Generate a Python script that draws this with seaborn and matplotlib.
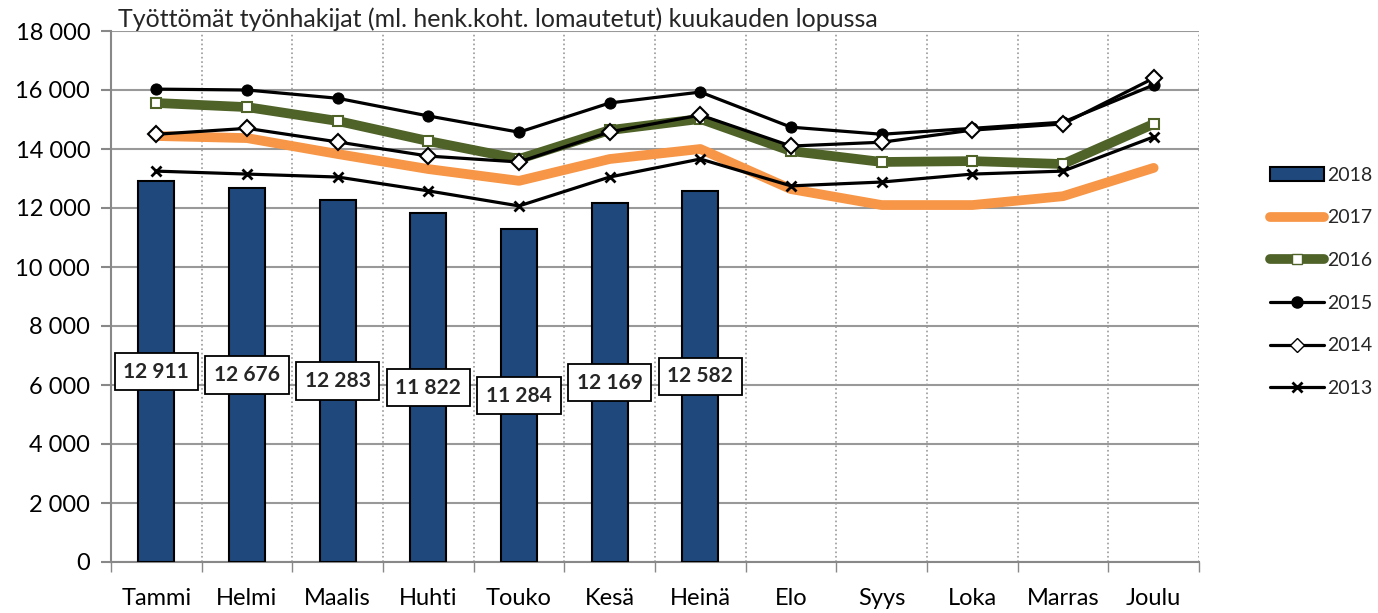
import numpy as np
import pandas as pd
import seaborn as sns
import matplotlib.pyplot as plt
from matplotlib.lines import Line2D
from matplotlib.patches import Patch
from matplotlib.ticker import FuncFormatter, MultipleLocator

kuukaudet = ["Tammi", "Helmi", "Maalis", "Huhti", "Touko", "Kesä",
             "Heinä", "Elo", "Syys", "Loka", "Marras", "Joulu"]

v2018 = [12911, 12676, 12283, 11822, 11284, 12169, 12582]
v2017 = [14440, 14370, 13830, 13320, 12920, 13660, 14000, 12640, 12100, 12100, 12400, 13360]
v2016 = [15560, 15420, 14950, 14270, 13660, 14640, 15020, 13930, 13560, 13590, 13490, 14850]
v2015 = [16030, 16000, 15720, 15120, 14570, 15560, 15930, 14740, 14500, 14700, 14910, 16170]
v2014 = [14500, 14700, 14240, 13760, 13560, 14580, 15150, 14100, 14230, 14640, 14850, 16400]
v2013 = [13250, 13150, 13050, 12580, 12070, 13050, 13660, 12750, 12880, 13150, 13250, 14410]

sns.set_theme(style="white")
plt.rcParams['font.family'] = ['Lato', 'DejaVu Sans']

fig = plt.figure(figsize=(13.78, 6.13), dpi=100)
ax = fig.add_axes([111 / 1378, 1 - 562 / 613, 1088 / 1378, 531 / 613])

df18 = pd.DataFrame({"kk": kuukaudet[:len(v2018)], "arvo": v2018})
sns.barplot(data=df18, x="kk", y="arvo", order=kuukaudet, color="#1F497D",
            saturation=1, width=0.40, edgecolor="black", linewidth=1.5, ax=ax, zorder=3)

x = np.arange(12)
sns.lineplot(x=x, y=v2017, color="#F79646", lw=7, ax=ax, zorder=4)
sns.lineplot(x=x, y=v2016, color="#4F6228", lw=7, marker="s", markersize=7,
             markerfacecolor="white", markeredgecolor="#4F6228", markeredgewidth=1.5, ax=ax, zorder=5)
sns.lineplot(x=x, y=v2015, color="black", lw=2.3, marker="o", markersize=8,
             markeredgecolor="black", ax=ax, zorder=6)
sns.lineplot(x=x, y=v2014, color="black", lw=2.3, marker="D", markersize=8,
             markerfacecolor="white", markeredgecolor="black", markeredgewidth=1.5, ax=ax, zorder=6)
sns.lineplot(x=x, y=v2013, color="black", lw=2.3, marker="x", markersize=7,
             markeredgecolor="black", markeredgewidth=2, ax=ax, zorder=6)

for i, v in enumerate(v2018):
    ax.text(i, v / 2, f"{v:,}".replace(",", " "), ha="center", va="center",
            fontsize=15, fontweight="bold", zorder=10,
            bbox=dict(boxstyle="square,pad=0.42", fc="white", ec="black", lw=1.3))

ax.set_xlim(-0.5, 11.5)
ax.set_ylim(0, 18000)
ax.yaxis.set_major_locator(MultipleLocator(2000))
ax.yaxis.set_major_formatter(FuncFormatter(lambda v, p: f"{int(v):,}".replace(",", " ")))
ax.set_xticks(x)
ax.set_xticklabels(kuukaudet)
ax.set_xticks(np.arange(-0.5, 12, 1), minor=True)
ax.set_xlabel("")
ax.set_ylabel("")
ax.tick_params(axis="both", which="major", labelsize=17, colors="black")
ax.tick_params(axis="x", which="major", length=0, pad=19)
ax.tick_params(axis="x", which="minor", length=7, color="#888888", direction="out", bottom=True)
ax.tick_params(axis="y", length=7, width=1.5, color="#888888", direction="out", left=True, pad=8)

ax.grid(axis="y", color="#999999", lw=1.5, zorder=0)
ax.grid(axis="x", which="minor", color="#999999", ls=":", lw=1.2, zorder=0)
ax.set_axisbelow(True)
for s in ["top", "right"]:
    ax.spines[s].set_visible(False)
for s in ["left", "bottom"]:
    ax.spines[s].set_color("#888888")
    ax.spines[s].set_linewidth(1.5)

fig.text(118 / 1378, 1 - 19 / 613, "Työttömät työnhakijat (ml. henk.koht. lomautetut) kuukauden lopussa",
         fontsize=18, va="center", ha="left")

handles = [
    Patch(facecolor="#1F497D", edgecolor="black", lw=1.5),
    Line2D([], [], color="#F79646", lw=7),
    Line2D([], [], color="#4F6228", lw=7, marker="s", markersize=7,
           markerfacecolor="white", markeredgecolor="#4F6228"),
    Line2D([], [], color="black", lw=2.3, marker="o", markersize=8),
    Line2D([], [], color="black", lw=2.3, marker="D", markersize=7,
           markerfacecolor="white", markeredgecolor="black"),
    Line2D([], [], color="black", lw=2.3, marker="x", markersize=7, markeredgewidth=2),
]
labels = ["2018", "2017", "2016", "2015", "2014", "2013"]
fig.legend(handles, labels, loc="center left", bbox_to_anchor=(1270 / 1378, 1 - 282 / 613),
           frameon=False, fontsize=14, labelspacing=1.32, handlelength=2.8, handletextpad=0.15,
           borderaxespad=0, borderpad=0)

fig.savefig("out.png", dpi=100)
